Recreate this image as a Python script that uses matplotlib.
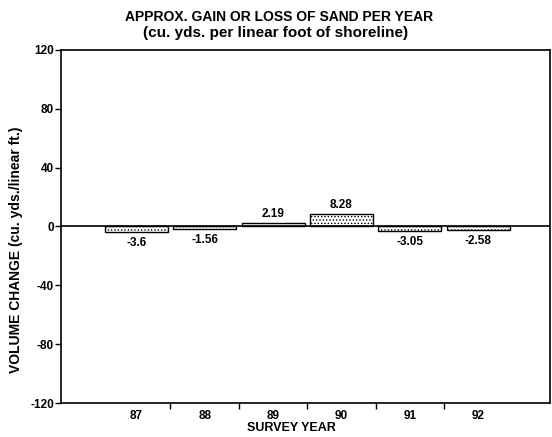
import matplotlib.pyplot as plt
import numpy as np

years = ["87", "88", "89", "90", "91", "92"]
change = [-3.6, -1.56, 2.19, 8.28, -3.05, -2.58]
labels = ["-3.6", "-1.56", "2.19", "8.28", "-3.05", "-2.58"]

plt.rcParams['font.family'] = ['Liberation Sans', 'DejaVu Sans']
plt.rcParams['axes.unicode_minus'] = False
plt.rcParams['hatch.color'] = '#777777'
plt.rcParams['hatch.linewidth'] = 0.6

fig = plt.figure(figsize=(5.52, 4.37), dpi=100)
ax = fig.add_axes([0.1105, 0.0778, 0.886, 0.8078])

x = np.arange(1, len(years) + 1)
bars = ax.bar(x, change, width=0.92, color='white', edgecolor='black',
              linewidth=1.0, hatch='.....')

for xi, v, lab in zip(x, change, labels):
    if v >= 0:
        ax.text(xi, v + 2.5, lab, ha='center', va='bottom', fontsize=8.5, fontweight='bold')
    else:
        ax.text(xi, v - 3.5, lab, ha='center', va='top', fontsize=8.5, fontweight='bold')

ax.axhline(0, color='black', linewidth=1.2)

ax.set_xlim(-0.1, 7.05)
ax.set_ylim(-120, 120)
ax.set_yticks([-120, -80, -40, 0, 40, 80, 120])
ax.set_xticks(x)
ax.set_xticklabels(years)
ax.set_xticks(x[:-1] + 0.5, minor=True)
ax.tick_params(axis='x', which='major', length=0, pad=5, labelsize=8.5)
ax.tick_params(axis='x', which='minor', length=4, direction='out', width=1)
ax.tick_params(axis='y', length=4, width=1, labelsize=8.5, pad=1)
for lab in ax.get_xticklabels() + ax.get_yticklabels():
    lab.set_fontweight('bold')

for s in ax.spines.values():
    s.set_linewidth(1.2)

ax.set_xlabel("SURVEY YEAR", fontsize=9, fontweight='bold', labelpad=0, x=0.472)
ax.set_ylabel("VOLUME CHANGE (cu. yds./linear ft.)", fontsize=10, fontweight='bold',
              labelpad=5, y=0.433)

fig.text(0.506, 0.961, "APPROX. GAIN OR LOSS OF SAND PER YEAR", ha='center', va='center',
         fontsize=10, fontweight='bold')
fig.text(0.5, 0.924, "(cu. yds. per linear foot of shoreline)", ha='center', va='center',
         fontsize=11, fontweight='bold')

fig.savefig("out.png", dpi=100)
